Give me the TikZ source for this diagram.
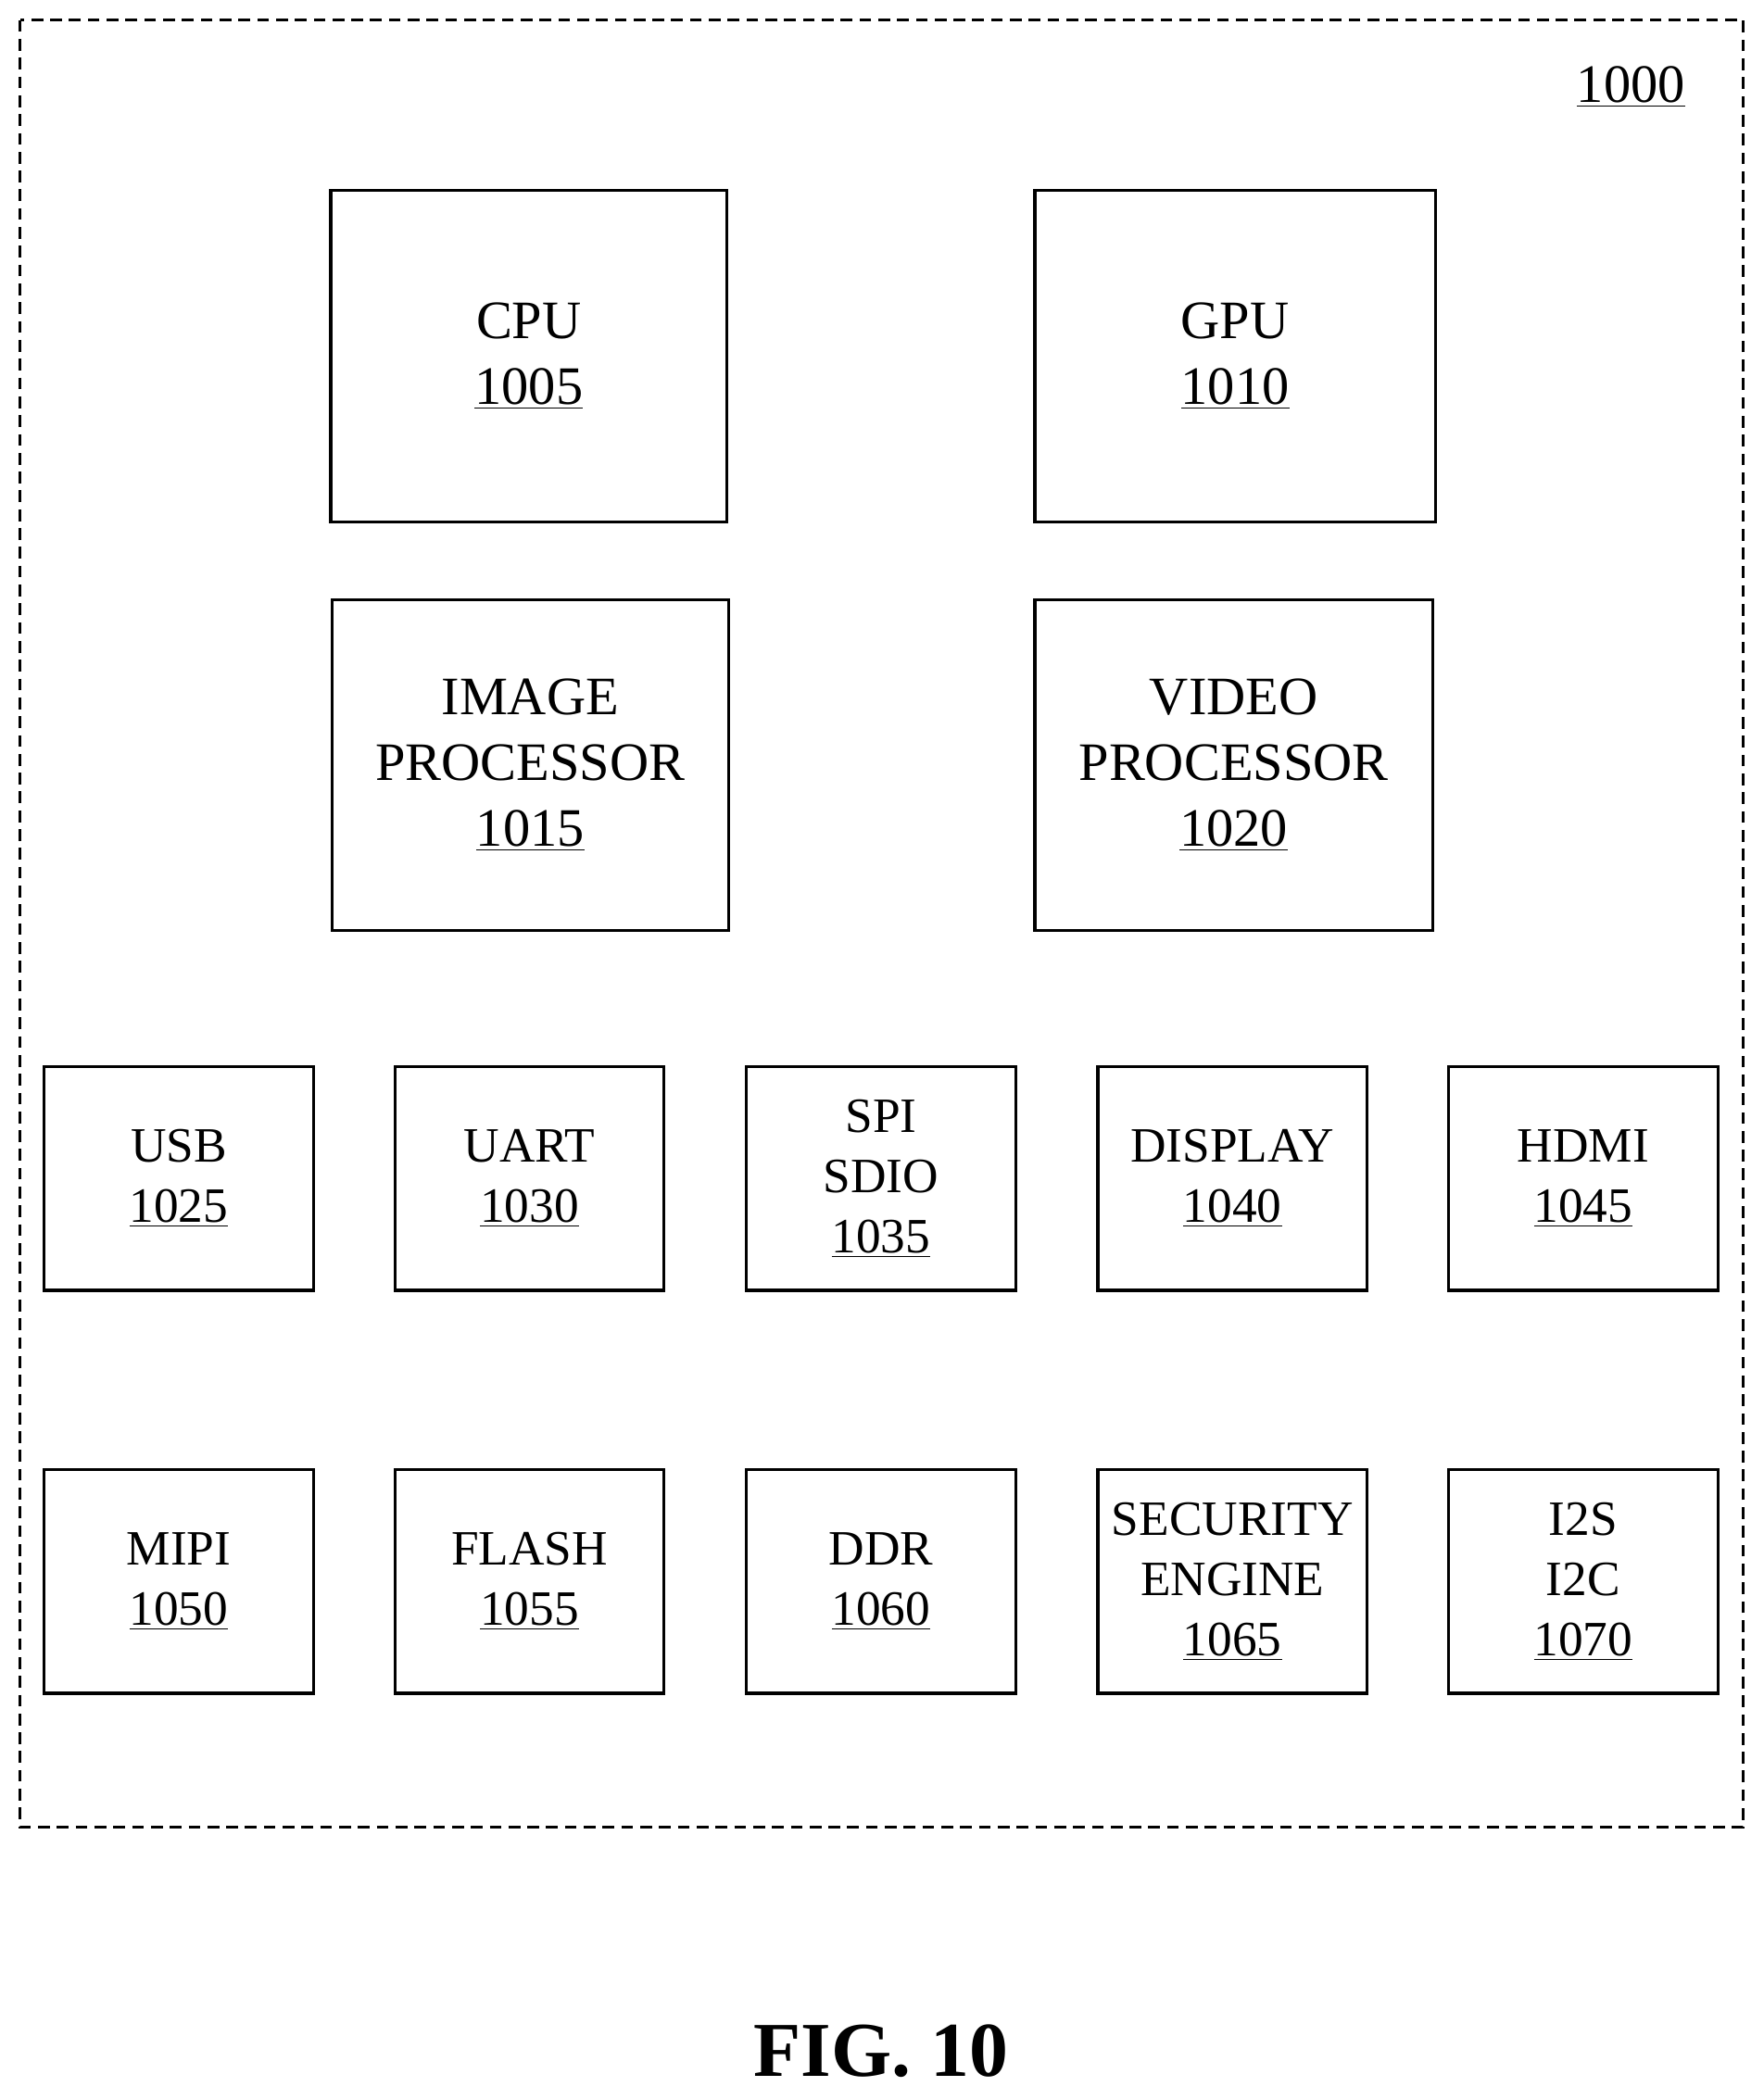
\documentclass[tikz,border=0pt]{standalone}
\usepackage{fontspec}
\setmainfont{Liberation Serif}
\begin{document}
\begin{tikzpicture}[x=0.02cm,y=-0.02cm,
 big/.style={draw,line width=1.3pt,align=center,font=\fontsize{23}{28}\selectfont},
 sm/.style={draw,line width=1.3pt,align=center,font=\fontsize{21}{25.5}\selectfont,minimum width=201*0.02cm,minimum height=167*0.02cm,inner sep=0pt}]
\useasboundingbox (0,0) rectangle (1317,1568);
\draw[dashed,line width=1.1pt,dash pattern=on 5pt off 3pt] (15,15) rectangle (1302,1365);
\node[font=\fontsize{23}{28}\selectfont] (l1000) at (1218,65) {\underline{1000}};
\def\bx#1#2#3#4#5#6{\node[big,minimum width=#3*0.02cm,minimum height=#4*0.02cm,inner sep=0pt] (#5) at (#1,#2) {#6};}
\bx{395}{266}{296}{248}{cpu}{CPU\\\underline{1005}}
\bx{922.5}{266}{299}{248}{gpu}{GPU\\\underline{1010}}
\bx{396}{571.5}{296}{247}{img}{IMAGE\\PROCESSOR\\\underline{1015}}
\bx{921.5}{571.5}{297}{247}{vid}{VIDEO\\PROCESSOR\\\underline{1020}}
\node[sm] (usb) at (133.5,880.5) {USB\\\underline{1025}};
\node[sm] (uart) at (395.5,880.5) {UART\\\underline{1030}};
\node[sm] (spi) at (658,880.5) {SPI\\SDIO\\\underline{1035}};
\node[sm] (disp) at (920.5,880.5) {DISPLAY\\\underline{1040}};
\node[sm] (hdmi) at (1182.5,880.5) {HDMI\\\underline{1045}};
\node[sm] (mipi) at (133.5,1181.5) {MIPI\\\underline{1050}};
\node[sm] (flash) at (395.5,1181.5) {FLASH\\\underline{1055}};
\node[sm] (ddr) at (658,1181.5) {DDR\\\underline{1060}};
\node[sm] (sec) at (920.5,1181.5) {SECURITY\\ENGINE\\\underline{1065}};
\node[sm] (i2s) at (1182.5,1181.5) {I2S\\I2C\\\underline{1070}};
\node[font=\fontsize{33}{40}\selectfont\bfseries] (fig) at (658,1532) {FIG. 10};
\end{tikzpicture}
\end{document}
